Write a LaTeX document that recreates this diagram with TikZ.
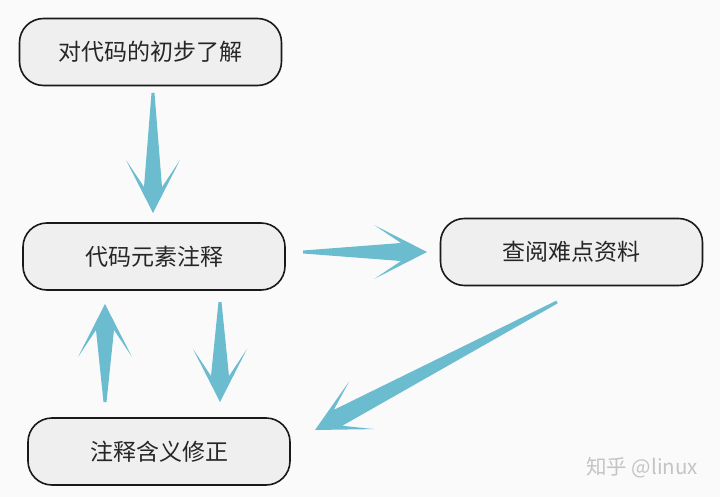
\documentclass[tikz,border=0pt]{standalone}
\usepackage{fontspec}
\usepackage{tikz}
\usetikzlibrary{calc}
\newfontfamily\cjk{Noto Sans CJK SC}
\definecolor{arrowblue}{RGB}{108,188,208}
\definecolor{boxfill}{RGB}{239,239,239}
\definecolor{pagebg}{RGB}{250,250,251}
\definecolor{markgray}{RGB}{196,196,196}
\tikzset{stepbox/.style={draw=black!90,line width=1.6pt,fill=boxfill,rounded corners=24pt,minimum width=262pt,minimum height=67pt,font=\cjk\fontsize{23}{23}\selectfont,text=black!85}}
\newcommand{\flowarrow}[2]{%
\fill[arrowblue] let \p1=(#1), \p2=(#2), \n1={atan2(\y2-\y1,\x2-\x1)}, \n2={veclen(\x2-\x1,\y2-\y1)} in
{[shift={(\p1)},rotate=\n1] (0pt,1.5pt) -- (\n2-26pt,9pt) -- (\n2-53pt,27pt) -- (\n2+0pt,0pt) -- (\n2-53pt,-27pt) -- (\n2-26pt,-9pt) -- (0pt,-1.5pt) -- cycle};}

\begin{document}
\begin{tikzpicture}[line cap=round,line join=round,x=1pt,y=-1pt]
\fill [pagebg] (0,0) rectangle (720,497);
\node [stepbox] (learn) at (150.5,52) {对代码的初步了解};
\node [stepbox] (annotate) at (154,256.5) {代码元素注释};
\node [stepbox] (lookup) at (571.5,252) {查阅难点资料};
\node [stepbox] (revise) at (159,451.5) {注释含义修正};
\coordinate (learn-out) at (153,93);
\coordinate (annotate-in) at (153,213);
\coordinate (annotate-right) at (303,252);
\coordinate (lookup-in) at (427,252);
\coordinate (lookup-out) at (557,302);
\coordinate (revise-in) at (315,430);
\coordinate (revise-up) at (105,402);
\coordinate (annotate-down) at (105,304);
\coordinate (annotate-out) at (220,302);
\coordinate (revise-top) at (220,402);
\flowarrow{learn-out}{annotate-in}
\flowarrow{annotate-right}{lookup-in}
\flowarrow{lookup-out}{revise-in}
\flowarrow{revise-up}{annotate-down}
\flowarrow{annotate-out}{revise-top}
\node [font=\cjk\fontsize{20.5}{20.5}\selectfont,text=markgray] (mark) at (642,468) {知乎 @linux};
\end{tikzpicture}
\end{document}
